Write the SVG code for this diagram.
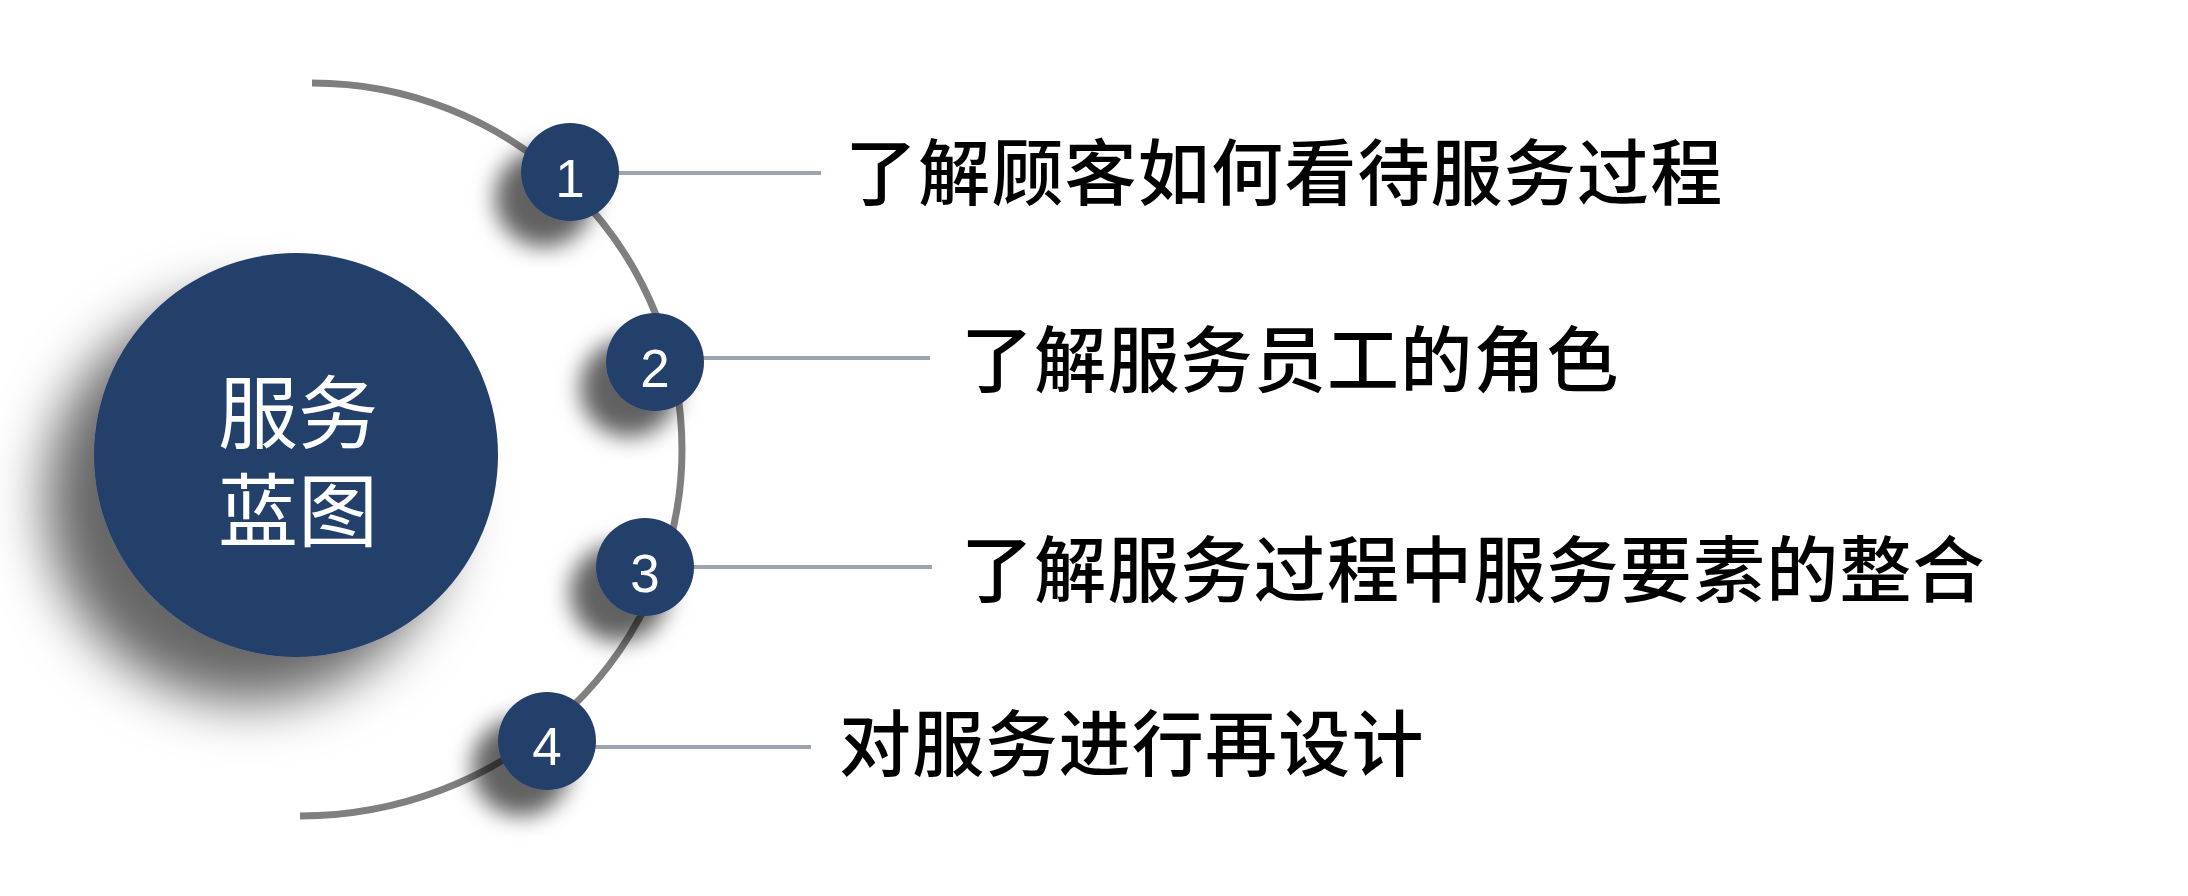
<svg xmlns="http://www.w3.org/2000/svg" width="2188" height="896" viewBox="0 0 2188 896">
  <defs>
    <filter id="bigShadow" x="-50%" y="-50%" width="200%" height="200%">
      <feGaussianBlur in="SourceAlpha" stdDeviation="27"/>
      <feOffset dx="-48" dy="45" result="b"/>
      <feFlood flood-color="#000" flood-opacity="0.6"/>
      <feComposite in2="b" operator="in" result="s"/>
      <feMerge><feMergeNode in="s"/><feMergeNode in="SourceGraphic"/></feMerge>
    </filter>
    <filter id="smallShadow" x="-100%" y="-100%" width="300%" height="300%">
      <feGaussianBlur in="SourceAlpha" stdDeviation="11"/>
      <feOffset dx="-26" dy="26" result="b"/>
      <feFlood flood-color="#000" flood-opacity="0.62"/>
      <feComposite in2="b" operator="in" result="s"/>
      <feMerge><feMergeNode in="s"/><feMergeNode in="SourceGraphic"/></feMerge>
    </filter>
  </defs>
  <style>
    .disc { fill: #243F6A; }
    .num { fill: #ffffff; font-family: "Liberation Sans", Arial, sans-serif; font-size: 53px; text-anchor: middle; }
    .label { fill: #000000; font-family: "Noto Sans CJK SC", sans-serif; font-size: 72px; font-weight: 500; letter-spacing: 1.2px; }
    .center { fill: #ffffff; font-family: "Noto Sans CJK SC", sans-serif; font-size: 80px; text-anchor: middle; }
    .conn { stroke: #9BA4AF; stroke-width: 4; fill: none; }
    .arc { stroke: #7F7F7F; stroke-width: 7; fill: none; }
  </style>
  <rect width="2188" height="896" fill="#ffffff"/>

  <path class="arc" d="M 312 83 A 370 367 0 0 1 682 450 A 382 366 0 0 1 300 816"/>

  <g id="connectors">
    <line class="conn" x1="615" y1="173" x2="821" y2="173"/>
    <line class="conn" x1="700" y1="358" x2="930" y2="358"/>
    <line class="conn" x1="690" y1="567" x2="932" y2="567"/>
    <line class="conn" x1="592" y1="747" x2="811" y2="747"/>
  </g>

  <g id="center">
    <circle class="disc" cx="296" cy="455" r="202" filter="url(#bigShadow)"/>
    <text class="center" x="298" y="442">服务<tspan x="298" y="540">蓝图</tspan></text>
  </g>

  <g id="step1">
    <circle class="disc" cx="570" cy="172" r="49" filter="url(#smallShadow)"/>
    <text class="num" x="570" y="197">1</text>
    <text class="label" x="845" y="199">了解顾客如何看待服务过程</text>
  </g>
  <g id="step2">
    <circle class="disc" cx="655" cy="362" r="49" filter="url(#smallShadow)"/>
    <text class="num" x="655" y="387">2</text>
    <text class="label" x="961" y="386">了解服务员工的角色</text>
  </g>
  <g id="step3">
    <circle class="disc" cx="645" cy="567" r="49" filter="url(#smallShadow)"/>
    <text class="num" x="645" y="592">3</text>
    <text class="label" x="961" y="596">了解服务过程中服务要素的整合</text>
  </g>
  <g id="step4">
    <circle class="disc" cx="547" cy="741" r="49" filter="url(#smallShadow)"/>
    <text class="num" x="547" y="765">4</text>
    <text class="label" x="839" y="770">对服务进行再设计</text>
  </g>
</svg>
